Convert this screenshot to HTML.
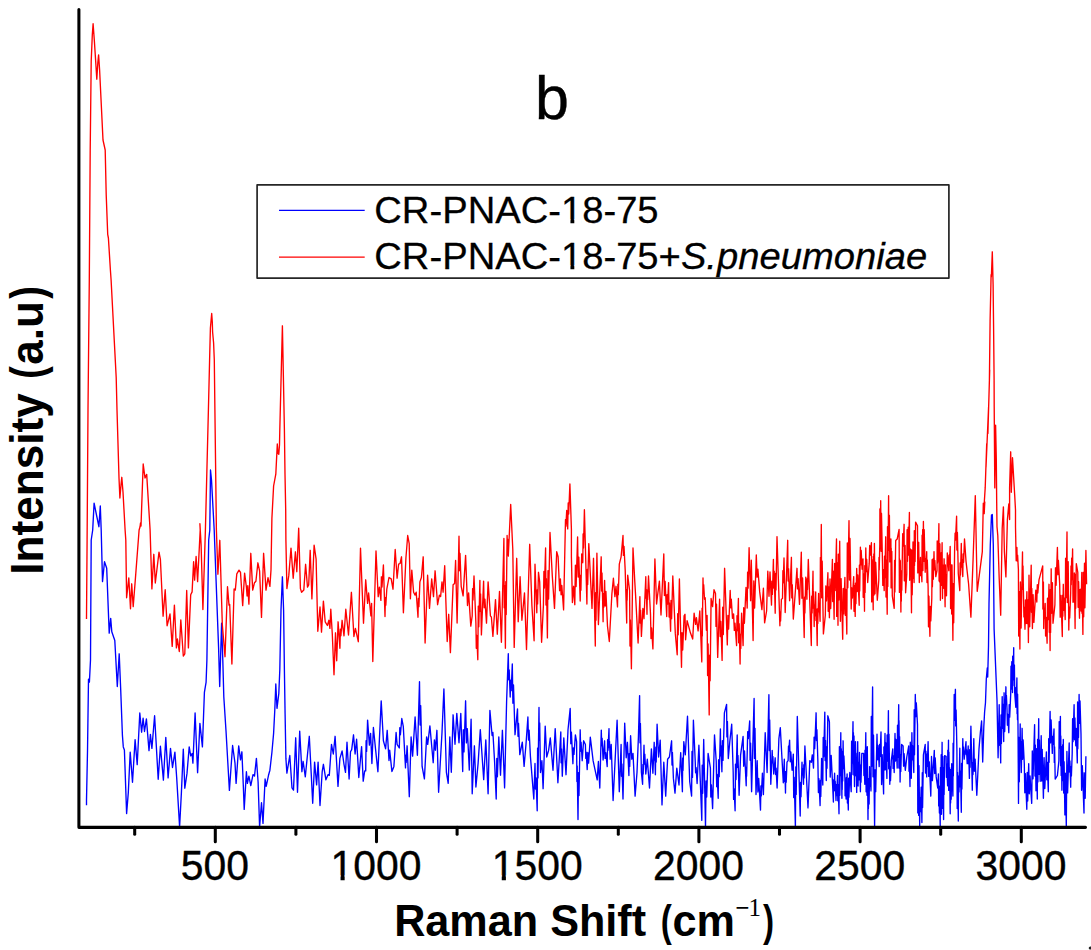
<!DOCTYPE html>
<html><head><meta charset="utf-8"><title>Raman spectra</title>
<style>
html,body{margin:0;padding:0;background:#fff;}
svg{display:block;font-family:"Liberation Sans",sans-serif;}
.tl{font-size:41.4px;text-anchor:middle;fill:#000;stroke:#000;stroke-width:0.35px;}
.ax line,.ax path{stroke:#000;stroke-width:3.05;stroke-linecap:round;stroke-linejoin:round;fill:none;}
.ttl{font-size:43.2px;font-weight:bold;fill:#000;}
.lg{font-size:35.5px;fill:#000;stroke:#000;stroke-width:0.25px;}
</style></head><body>
<svg width="1091" height="950" viewBox="0 0 1091 950">
<rect width="1091" height="950" fill="#fff"/>
<path d="M86.5,805.2 L86.5,800.0 L87.5,751.3 L88.5,679.1 L89.4,682.1 L90.5,660.0 L91.2,540.0 L92.7,530.0 L94.1,503.1 L96.5,515.0 L98.9,526.7 L100.3,506.0 L101.2,530.0 L102.5,581.6 L104.5,561.7 L106.7,568.3 L109.2,633.1 L110.7,618.4 L111.8,631.7 L114.8,640.5 L117.3,686.5 L119.2,653.8 L120.7,689.5 L121.8,718.9 L122.4,735.1 L123.3,746.9 L124.4,749.9 L126.6,813.6 L128.3,792.6 L130.2,752.1 L132.5,782.3 L135.1,739.6 L137.2,764.6 L139.8,713.0 L141.6,732.2 L143.1,718.2 L144.5,731.5 L146.4,718.9 L149.0,750.6 L150.4,734.4 L151.9,748.4 L154.6,715.7 L158.2,779.3 L160.4,746.2 L163.4,780.1 L165.8,737.4 L168.1,777.9 L170.5,748.4 L172.5,767.5 L174.9,752.1 L176.7,777.9 L179.6,826.8 L181.4,792.6 L183.3,749.1 L184.8,788.2 L187.0,773.4 L189.2,746.9 L190.7,755.8 L192.1,753.5 L192.9,763.1 L195.1,713.0 L197.6,772.7 L199.9,723.4 L202.4,746.9 L204.4,692.4 L206.1,682.1 L206.9,660.0 L208.7,540.0 L209.8,530.0 L210.5,470.0 L211.5,480.0 L214.2,530.0 L218.6,647.9 L219.7,686.5 L221.6,623.2 L222.8,660.0 L223.8,696.8 L226.0,730.7 L229.4,790.4 L232.6,745.5 L235.0,763.1 L236.1,783.4 L238.7,745.9 L240.5,759.9 L241.9,751.8 L243.4,787.9 L244.2,809.4 L246.4,771.7 L247.4,783.4 L248.9,776.1 L250.8,785.6 L253.0,774.6 L254.5,776.1 L256.4,758.4 L258.1,782.0 L259.6,827.0 L261.5,802.7 L263.0,823.4 L265.1,779.0 L266.2,786.4 L268.5,775.3 L269.9,770.2 L271.9,752.5 L273.6,733.4 L274.8,709.8 L275.8,684.0 L277.0,708.3 L278.8,693.6 L279.8,670.0 L281.0,610.0 L282.4,576.8 L283.6,610.0 L284.4,670.0 L285.1,714.2 L285.9,758.4 L286.9,773.1 L289.8,755.5 L292.0,787.9 L293.5,790.1 L295.7,737.8 L297.5,792.3 L299.7,731.1 L301.9,771.7 L303.1,761.3 L305.3,776.8 L309.3,736.3 L311.2,773.1 L312.7,803.3 L314.6,762.1 L316.6,784.9 L318.1,762.1 L320.0,805.5 L322.2,771.7 L323.4,764.3 L325.9,779.8 L328.1,774.6 L329.3,775.3 L331.5,744.4 L333.3,754.0 L335.1,736.3 L338.0,786.4 L339.9,758.4 L342.1,751.0 L344.0,764.3 L345.5,772.4 L347.0,742.2 L349.1,779.0 L350.5,751.8 L351.7,749.6 L353.5,734.8 L355.1,754.0 L356.6,739.2 L358.8,777.5 L361.6,746.6 L363.2,781.2 L364.7,770.9 L365.7,770.9 L366.1,740.7 L366.6,751.4 L367.6,720.1 L369.4,745.1 L370.6,733.4 L371.9,763.5 L373.4,727.5 L375.6,749.6 L377.9,771.7 L381.2,700.9 L383.4,740.7 L385.0,746.6 L385.6,748.7 L387.2,730.3 L389.0,760.5 L389.7,750.2 L391.9,771.5 L393.9,766.4 L396.1,732.5 L397.1,744.3 L399.3,748.0 L399.8,727.7 L400.4,734.8 L401.8,718.5 L403.3,726.6 L405.5,767.9 L405.8,755.3 L406.2,762.4 L407.1,745.8 L409.3,796.7 L411.1,736.9 L412.6,756.1 L415.1,717.0 L417.4,755.3 L419.5,681.7 L420.1,725.1 L420.7,705.6 L422.1,766.4 L424.4,778.9 L426.6,736.9 L427.7,744.3 L429.9,725.9 L433.2,762.7 L434.4,739.9 L435.4,750.2 L436.9,730.3 L438.6,792.3 L442.0,732.5 L443.9,689.0 L446.4,772.3 L448.2,783.3 L449.8,736.9 L451.3,772.3 L453.1,714.8 L455.0,744.3 L456.8,713.4 L459.0,742.8 L460.8,713.4 L462.7,771.5 L463.3,729.7 L464.0,751.9 L465.6,700.8 L466.4,742.9 L467.3,728.6 L469.3,770.1 L471.1,719.2 L472.2,793.8 L474.4,745.8 L475.9,787.0 L478.1,763.4 L480.3,729.6 L483.7,779.6 L485.8,739.9 L488.1,793.8 L489.9,710.4 L492.1,735.5 L492.9,732.5 L494.6,762.0 L496.2,799.0 L496.8,758.4 L497.4,776.8 L498.8,736.9 L500.5,775.2 L502.4,730.3 L504.6,787.9 L506.6,701.6 L508.3,653.7 L508.7,679.8 L509.2,670.0 L510.2,697.1 L510.7,680.1 L511.2,690.6 L512.3,664.0 L512.9,703.2 L513.5,684.9 L515.0,734.7 L517.5,708.9 L518.0,736.3 L518.5,723.4 L519.8,754.6 L522.3,742.1 L524.1,766.4 L526.0,744.3 L527.9,717.0 L528.5,740.1 L529.1,730.2 L530.4,756.1 L533.8,799.0 L535.0,763.4 L535.5,789.0 L536.0,777.8 L537.2,810.8 L537.6,748.1 L538.0,777.9 L539.0,707.4 L539.3,740.0 L539.7,722.9 L540.5,772.5 L541.9,760.7 L543.1,788.7 L545.2,726.1 L546.7,757.0 L548.6,750.4 L550.3,737.9 L553.0,770.3 L555.2,728.6 L557.9,782.8 L560.8,732.0 L561.1,762.8 L561.5,748.8 L562.3,776.2 L563.8,737.9 L566.0,774.7 L568.0,729.8 L570.2,708.4 L570.8,743.7 L571.4,732.2 L572.9,763.7 L573.4,748.0 L574.0,754.4 L575.4,734.9 L576.6,741.6 L576.9,781.5 L577.2,765.9 L578.0,819.6 L578.5,772.7 L579.0,795.6 L580.2,729.8 L580.7,751.2 L581.1,742.2 L582.2,760.7 L583.6,740.8 L585.4,744.5 L585.8,758.4 L586.2,752.1 L587.2,769.6 L587.8,752.5 L588.6,763.1 L590.3,737.1 L593.1,760.7 L597.2,779.9 L598.4,761.5 L599.8,788.0 L601.3,730.1 L601.7,745.7 L602.1,738.2 L603.1,760.0 L604.6,740.8 L605.1,758.4 L605.8,752.6 L607.2,766.6 L607.6,739.7 L608.0,750.3 L609.0,728.6 L609.2,747.6 L609.5,741.3 L610.2,759.2 L611.2,744.5 L613.1,800.5 L617.1,720.2 L619.3,791.7 L621.1,744.5 L621.5,776.2 L621.9,763.9 L623.0,799.0 L624.7,723.1 L626.2,757.8 L627.4,742.3 L628.9,775.5 L629.2,753.6 L629.7,766.4 L630.6,735.7 L631.8,759.2 L633.0,753.4 L635.1,796.1 L637.0,772.5 L638.4,737.1 L639.6,695.6 L640.0,742.8 L640.4,723.3 L641.4,772.5 L642.6,784.3 L642.9,764.5 L643.2,774.0 L644.0,745.2 L644.4,764.0 L644.8,754.1 L645.8,774.0 L647.3,759.2 L649.5,788.0 L651.4,748.9 L652.9,773.2 L654.2,742.3 L654.5,760.1 L654.7,752.5 L655.4,774.7 L655.8,747.2 L656.2,762.0 L657.1,724.2 L658.6,757.0 L660.2,740.1 L662.0,804.9 L663.8,762.2 L665.7,796.1 L667.6,759.2 L669.4,757.0 L671.6,740.8 L672.0,765.1 L672.4,752.4 L673.4,778.4 L675.0,793.1 L676.8,768.1 L679.0,785.0 L680.7,752.6 L682.4,791.7 L682.7,757.9 L683.0,770.4 L683.8,741.6 L685.3,754.8 L687.5,716.2 L689.7,781.3 L691.6,796.1 L692.0,751.4 L692.5,777.4 L693.4,720.2 L695.2,760.7 L695.6,772.8 L696.1,767.7 L697.1,783.5 L698.9,745.2 L701.8,820.4 L702.2,765.1 L702.7,793.3 L703.7,739.4 L705.5,826.3 L706.1,781.0 L706.7,797.0 L708.1,753.4 L710.4,768.1 L710.8,797.0 L711.4,784.9 L712.6,808.6 L714.5,734.9 L716.2,760.7 L716.7,786.7 L717.1,774.5 L718.2,798.3 L718.6,759.8 L719.2,776.7 L720.4,729.0 L720.7,755.9 L721.0,745.7 L721.9,771.8 L722.4,740.6 L723.0,760.4 L724.4,712.8 L726.6,704.4 L726.9,736.9 L727.4,721.4 L728.3,758.5 L729.8,741.6 L731.7,724.2 L733.2,772.5 L733.6,799.4 L734.1,788.8 L735.1,810.8 L735.5,764.1 L736.0,779.5 L737.2,734.9 L737.6,767.6 L738.0,755.5 L739.1,795.3 L740.6,754.8 L743.1,736.4 L743.7,766.2 L744.5,751.0 L746.2,785.8 L746.4,767.2 L746.6,776.2 L747.2,753.4 L747.7,731.6 L748.3,738.6 L749.7,720.9 L750.1,760.2 L750.6,743.1 L751.6,791.7 L754.1,698.5 L754.5,758.4 L755.0,728.3 L756.0,794.6 L757.2,760.7 L757.9,792.0 L758.7,778.4 L760.5,810.1 L760.9,786.0 L761.3,795.9 L762.4,773.2 L762.6,786.2 L762.8,778.9 L763.4,794.6 L765.2,732.7 L767.1,772.5 L768.9,694.7 L769.3,750.5 L769.7,719.9 L770.8,784.3 L772.2,750.4 L772.6,762.8 L772.9,756.5 L773.7,774.0 L775.2,757.8 L775.6,774.5 L776.1,768.1 L777.1,788.0 L778.9,738.6 L780.3,727.6 L783.3,782.8 L784.3,759.2 L784.6,781.5 L784.9,771.4 L785.5,793.1 L785.8,771.7 L786.2,782.3 L787.0,762.2 L788.1,760.7 L788.5,746.1 L788.8,751.4 L789.6,740.1 L790.2,761.8 L790.8,752.0 L792.1,770.3 L793.3,754.1 L793.7,797.5 L794.2,777.3 L795.4,827.0 L795.8,767.0 L796.2,794.4 L797.3,716.5 L800.2,816.0 L800.6,782.5 L801.0,796.8 L802.0,762.2 L802.3,774.9 L802.7,768.4 L803.5,784.3 L803.8,764.6 L804.1,777.9 L804.9,746.0 L808.0,807.9 L809.8,760.7 L811.3,762.2 L812.3,754.8 L813.5,768.1 L814.1,737.2 L814.7,748.6 L816.1,712.8 L816.5,740.5 L816.9,729.6 L817.9,762.2 L818.4,792.6 L818.9,778.6 L820.1,805.6 L820.4,780.5 L820.8,796.5 L821.6,758.5 L821.8,775.9 L822.1,770.2 L822.8,785.0 L823.2,737.5 L823.7,756.8 L824.8,712.1 L825.1,760.5 L825.5,740.3 L826.3,780.6 L826.6,747.0 L827.0,768.3 L827.8,715.8 L829.4,721.7 L830.2,777.1 L831.2,755.5 L833.4,802.0 L833.6,780.0 L833.9,790.5 L834.6,773.2 L834.9,790.7 L835.2,781.2 L836.0,800.5 L836.4,784.6 L836.7,795.7 L837.5,775.5 L837.8,800.8 L838.2,784.4 L839.0,813.8 L839.4,746.7 L839.8,795.3 L840.8,732.7 L841.0,775.6 L841.3,748.7 L841.9,798.3 L842.1,759.5 L842.2,789.4 L842.6,751.2 L842.7,781.1 L843.1,740.8 L843.5,768.7 L843.9,755.9 L844.9,778.4 L845.1,795.8 L845.4,783.9 L846.1,799.0 L846.3,777.7 L846.5,792.6 L847.1,774.0 L847.4,803.1 L847.6,789.0 L848.3,810.1 L848.6,778.1 L848.9,797.3 L849.8,772.5 L851.2,791.7 L851.6,741.2 L852.0,774.6 L853.0,721.7 L853.2,763.1 L853.4,732.6 L853.8,775.0 L854.0,735.9 L854.5,786.5 L854.6,758.4 L854.7,769.6 L855.0,747.8 L855.1,771.6 L855.5,741.6 L855.8,775.8 L856.0,753.2 L856.7,792.4 L856.9,759.5 L857.1,778.6 L857.7,741.6 L858.1,786.1 L858.4,762.2 L859.1,779.8 L859.5,752.4 L860.4,791.7 L860.7,765.1 L861.0,782.2 L861.8,753.4 L863.6,753.4 L863.9,775.5 L864.1,762.0 L864.8,784.3 L865.0,750.2 L865.2,769.5 L865.8,732.7 L866.1,791.8 L866.4,747.9 L867.0,795.3 L867.3,746.7 L868.0,819.6 L868.2,783.0 L868.4,808.4 L868.9,778.5 L869.1,804.1 L869.6,766.6 L869.9,786.0 L870.2,775.0 L871.0,790.9 L871.3,716.5 L871.7,766.2 L872.6,687.0 L873.0,776.8 L873.5,735.2 L874.6,826.3 L875.2,769.8 L875.7,791.7 L877.0,734.2 L877.5,759.7 L878.0,745.5 L879.2,766.6 L879.6,744.4 L880.0,756.5 L881.0,732.0 L881.6,784.6 L882.2,754.7 L883.6,793.9 L883.9,747.0 L884.2,770.2 L885.0,733.5 L885.4,769.8 L885.8,743.0 L886.9,778.4 L887.1,735.0 L887.3,761.6 L887.7,735.6 L887.9,752.9 L888.4,710.6 L888.7,768.7 L889.0,734.1 L889.8,784.3 L890.1,766.7 L890.5,780.7 L891.3,760.7 L892.8,748.9 L893.1,768.4 L893.4,755.7 L894.2,772.5 L895.0,733.5 L895.5,761.1 L896.0,739.3 L897.2,768.1 L897.5,725.3 L897.9,757.3 L898.7,704.7 L898.9,768.1 L899.0,720.6 L899.5,768.3 L899.6,736.7 L900.1,782.1 L900.5,755.2 L900.8,771.6 L901.6,744.5 L903.1,746.0 L903.6,766.2 L904.1,753.7 L905.3,770.3 L906.8,757.0 L908.7,746.0 L909.0,771.2 L909.3,753.7 L910.0,786.5 L910.3,742.2 L910.5,774.0 L911.0,745.1 L911.3,778.3 L911.9,732.7 L912.3,759.8 L912.8,745.9 L913.8,772.5 L914.2,709.8 L914.5,754.7 L915.3,694.4 L915.8,716.7 L916.3,702.8 L917.5,724.6 L917.8,812.9 L918.1,745.3 L918.7,815.4 L919.0,765.6 L919.7,826.3 L920.0,797.5 L920.4,811.8 L921.2,787.2 L921.9,822.6 L922.3,772.8 L922.6,807.5 L923.4,754.8 L925.2,744.5 L925.5,773.1 L925.9,751.2 L926.7,776.9 L927.0,754.2 L927.3,766.6 L928.1,741.6 L928.7,776.4 L929.3,761.8 L930.8,796.1 L931.5,756.5 L932.4,780.6 L934.3,750.4 L934.7,773.5 L935.2,757.9 L936.2,776.9 L937.7,788.0 L938.4,774.0 L938.7,805.9 L938.9,789.0 L939.4,813.0 L939.6,786.3 L940.2,827.0 L940.5,767.4 L940.7,807.1 L941.2,754.8 L941.5,814.3 L942.1,742.3 L942.4,808.2 L942.8,756.4 L943.6,819.6 L943.8,767.5 L944.1,794.4 L944.6,755.6 L946.1,756.3 L946.4,777.3 L946.8,763.8 L947.6,785.8 L947.8,750.3 L948.0,774.5 L948.5,740.1 L948.7,790.4 L948.9,752.1 L949.4,786.5 L949.6,767.7 L950.2,813.8 L950.4,769.6 L950.6,802.9 L951.0,779.7 L951.2,799.3 L951.7,763.7 L952.0,786.7 L952.2,776.9 L952.9,796.1 L953.1,743.3 L953.3,776.0 L953.9,733.5 L954.2,694.5 L954.6,720.3 L955.4,689.3 L955.7,725.9 L956.1,710.0 L956.9,748.9 L957.2,808.5 L957.5,772.3 L958.3,821.1 L958.6,776.3 L959.0,791.9 L959.8,748.2 L960.1,786.9 L960.5,770.8 L961.3,812.3 L961.6,763.5 L961.9,789.0 L962.8,738.6 L963.1,751.9 L963.4,746.9 L964.2,759.2 L966.0,741.6 L966.2,754.5 L966.5,749.6 L967.2,763.7 L968.2,746.0 L968.5,763.7 L968.7,752.8 L969.4,778.4 L969.7,749.7 L970.1,767.3 L970.9,726.1 L972.3,790.2 L972.6,762.8 L973.0,774.6 L973.8,738.6 L974.4,771.2 L975.1,759.1 L976.8,795.3 L979.0,748.9 L980.4,732.0 L981.6,721.0 L982.7,762.0 L983.8,727.0 L984.6,712.0 L985.5,702.5 L986.3,679.0 L987.3,667.9 L987.7,677.0 L988.5,646.5 L989.0,604.0 L990.3,545.0 L991.5,515.0 L992.3,514.5 L993.3,545.0 L994.1,629.0 L995.6,666.0 L997.0,700.0 L998.1,757.8 L999.2,704.7 L999.6,745.2 L999.9,727.0 L1000.7,762.9 L1001.0,714.9 L1001.4,743.6 L1002.2,696.6 L1002.5,728.2 L1002.9,704.1 L1003.7,741.6 L1004.1,692.8 L1004.7,731.5 L1005.9,686.8 L1006.1,704.4 L1006.4,695.3 L1007.0,709.1 L1007.4,725.2 L1007.9,714.3 L1008.8,732.7 L1009.2,704.6 L1009.7,717.1 L1010.7,694.4 L1011.0,666.2 L1011.2,689.3 L1011.8,661.7 L1012.5,692.6 L1012.7,656.1 L1012.8,675.0 L1013.1,659.3 L1013.3,678.7 L1013.7,647.7 L1013.8,679.9 L1013.9,665.6 L1014.2,685.8 L1014.4,664.8 L1014.7,692.6 L1015.8,707.3 L1016.0,687.5 L1016.3,702.0 L1016.9,677.9 L1017.1,713.8 L1017.2,693.7 L1017.5,719.8 L1017.6,694.2 L1018.0,725.4 L1018.5,803.4 L1018.9,737.5 L1019.3,781.7 L1020.2,723.9 L1020.4,753.6 L1020.7,741.4 L1021.3,772.5 L1022.1,728.3 L1022.6,759.3 L1023.1,739.8 L1024.3,763.7 L1024.8,792.8 L1025.4,773.6 L1026.8,809.3 L1027.2,772.4 L1027.7,801.1 L1028.7,763.7 L1029.3,793.8 L1030.0,775.9 L1031.7,803.4 L1032.3,750.9 L1033.0,778.8 L1034.6,724.6 L1035.0,776.0 L1035.3,745.0 L1036.0,790.7 L1036.4,748.7 L1037.3,799.0 L1037.6,739.4 L1037.9,781.9 L1038.7,718.7 L1039.0,774.3 L1039.4,740.0 L1040.2,781.3 L1040.4,753.6 L1040.7,768.3 L1041.2,735.7 L1041.7,781.1 L1042.2,749.4 L1043.4,798.3 L1044.1,757.6 L1044.8,788.5 L1046.4,751.9 L1046.8,779.8 L1047.3,762.4 L1048.3,791.7 L1048.7,738.7 L1049.1,762.3 L1050.1,711.4 L1050.5,742.9 L1051.1,720.0 L1052.3,753.4 L1052.7,736.5 L1053.1,744.3 L1054.0,729.0 L1054.3,762.4 L1054.6,746.8 L1055.2,779.1 L1057.4,775.5 L1058.9,760.7 L1059.2,721.6 L1059.6,748.2 L1060.4,716.5 L1060.6,765.7 L1060.8,735.9 L1061.2,775.4 L1061.4,746.4 L1061.9,790.2 L1062.1,753.7 L1062.2,779.6 L1062.7,744.8 L1062.8,780.6 L1063.3,739.4 L1063.7,793.1 L1064.1,761.6 L1064.9,814.9 L1065.3,773.1 L1066.3,826.3 L1066.9,751.4 L1067.6,792.9 L1069.2,743.0 L1069.5,772.0 L1069.9,760.8 L1070.7,787.2 L1071.0,766.6 L1071.4,776.1 L1072.2,753.4 L1072.6,718.7 L1073.0,741.7 L1074.1,704.7 L1074.5,739.7 L1074.9,717.9 L1075.8,745.8 L1076.2,728.5 L1077.3,762.9 L1077.6,702.0 L1077.8,748.8 L1078.3,714.5 L1078.5,737.5 L1079.1,694.4 L1079.5,723.4 L1080.0,700.9 L1081.0,734.2 L1081.6,790.3 L1082.3,765.6 L1084.0,813.0 L1084.2,772.8 L1084.5,790.8 L1085.0,778.5 L1085.2,798.2 L1085.9,756.3" fill="none" stroke="#0000ff" stroke-width="1.35" stroke-linejoin="round"/>
<path d="M86.5,619.0 L87.1,540.0 L88.0,410.0 L89.3,280.0 L90.2,150.0 L91.2,61.5 L92.3,35.0 L93.1,23.7 L94.3,40.0 L95.6,60.0 L96.8,79.2 L97.8,63.0 L98.6,54.9 L99.6,70.0 L103.0,140.0 L105.2,150.0 L106.2,194.5 L107.7,234.3 L108.4,238.0 L110.4,270.0 L111.1,280.0 L116.2,377.5 L117.0,410.0 L119.0,478.0 L119.9,498.0 L121.0,485.0 L121.8,477.3 L123.0,492.0 L125.1,530.0 L125.8,540.0 L126.6,597.8 L128.8,577.9 L130.5,608.8 L131.7,583.8 L133.2,606.6 L135.4,578.6 L139.1,530.0 L140.0,527.0 L140.5,523.0 L141.0,526.0 L143.2,464.0 L145.0,478.0 L146.7,474.4 L150.1,530.0 L151.9,588.9 L153.8,554.3 L155.3,583.0 L159.0,552.1 L160.4,559.5 L163.1,616.2 L165.2,589.7 L167.1,625.8 L170.0,614.0 L172.2,646.4 L174.4,605.1 L176.4,647.9 L177.4,639.0 L179.3,651.5 L180.8,619.9 L183.3,656.0 L184.8,653.8 L186.7,590.4 L188.4,647.9 L190.7,594.8 L192.1,591.9 L193.6,561.7 L194.6,580.1 L196.1,556.5 L197.6,581.6 L200.2,530.0 L199.9,523.7 L201.1,544.7 L202.9,609.6 L205.4,530.0 L208.4,410.0 L209.6,360.0 L210.4,328.0 L211.7,313.5 L212.3,322.0 L212.6,332.0 L213.6,343.0 L214.3,360.0 L214.9,410.0 L216.4,530.0 L217.9,574.2 L219.8,540.3 L222.3,624.3 L225.0,656.7 L227.5,586.7 L229.0,605.1 L229.7,604.4 L231.9,664.1 L234.1,588.9 L235.3,590.1 L236.8,573.9 L239.0,570.2 L240.5,572.4 L242.7,605.6 L244.6,573.1 L246.4,587.1 L247.1,596.0 L247.8,585.7 L248.9,604.1 L250.8,553.3 L252.7,590.1 L254.5,582.7 L255.9,581.2 L257.9,562.8 L259.6,570.9 L261.5,617.4 L263.6,553.3 L266.0,590.1 L268.0,577.6 L269.9,586.4 L271.0,569.9 L271.9,518.4 L273.6,486.0 L275.8,474.2 L277.3,444.0 L278.0,453.6 L278.8,454.3 L279.5,444.7 L279.8,430.0 L282.4,325.8 L284.4,430.0 L285.0,474.2 L285.7,509.6 L285.9,540.0 L286.9,588.6 L288.8,575.4 L291.0,548.1 L293.2,578.3 L295.4,551.8 L296.8,571.7 L298.7,528.2 L300.4,588.6 L301.6,592.3 L303.8,590.1 L305.6,564.3 L307.5,587.1 L308.7,584.9 L310.2,550.3 L311.9,598.9 L314.1,545.2 L316.1,559.1 L317.8,631.3 L320.0,607.0 L321.5,632.1 L323.4,601.1 L325.2,621.8 L327.4,625.5 L328.9,620.3 L329.9,628.4 L330.8,609.2 L332.3,634.3 L334.0,674.8 L335.5,632.8 L336.7,660.8 L338.1,621.8 L339.9,648.3 L340.4,629.1 L340.9,635.8 L342.1,620.3 L344.0,635.8 L345.8,609.2 L348.5,635.0 L351.4,592.3 L353.9,636.5 L355.4,628.4 L358.3,641.7 L360.5,548.1 L363.5,623.2 L365.7,579.8 L367.6,603.4 L368.6,593.0 L370.9,615.9 L371.6,603.4 L372.8,661.5 L376.0,551.0 L378.2,596.7 L379.4,587.1 L380.9,600.4 L381.4,576.8 L382.0,587.0 L383.4,565.0 L385.0,616.6 L385.4,597.7 L385.8,605.1 L386.8,589.2 L389.0,577.5 L391.2,578.9 L393.0,589.2 L395.2,549.5 L397.1,578.2 L398.6,564.2 L400.1,563.5 L401.5,556.8 L403.4,612.8 L405.9,558.3 L407.7,535.5 L409.2,543.6 L410.4,598.8 L411.8,570.1 L413.6,592.2 L415.1,595.1 L416.2,592.2 L418.0,617.2 L418.4,598.5 L418.9,606.7 L419.9,581.9 L421.4,577.5 L423.2,556.8 L425.1,643.0 L427.6,575.2 L429.5,608.4 L431.7,578.9 L433.5,596.6 L435.1,570.8 L437.6,604.7 L439.4,595.1 L440.6,596.6 L442.0,581.9 L443.1,592.2 L444.7,565.7 L447.2,641.5 L448.7,614.3 L450.4,652.6 L453.1,584.8 L454.6,583.4 L455.6,560.5 L457.1,623.1 L459.0,536.2 L459.5,570.7 L460.0,553.5 L461.2,586.3 L463.1,595.9 L465.6,555.4 L467.5,605.5 L468.6,592.9 L470.8,626.1 L472.2,615.8 L472.6,588.6 L473.0,600.0 L474.0,576.0 L475.9,623.1 L476.3,648.3 L476.8,635.5 L477.8,659.7 L478.3,606.1 L478.8,626.8 L479.9,580.4 L480.2,611.2 L480.6,594.0 L481.4,634.9 L483.6,581.1 L484.2,607.8 L484.9,599.1 L486.5,623.1 L488.1,581.9 L490.4,615.8 L491.4,617.2 L492.9,636.4 L495.5,599.6 L497.3,634.2 L499.5,591.5 L501.4,642.3 L503.9,538.4 L504.2,607.8 L504.6,585.3 L505.4,648.2 L505.8,581.7 L506.2,614.6 L507.1,535.5 L507.4,546.0 L507.7,539.2 L508.3,556.1 L510.7,504.5 L512.8,549.5 L514.2,647.4 L516.7,558.3 L518.2,621.7 L520.1,576.7 L521.9,620.2 L524.5,592.9 L526.5,649.6 L529.7,544.3 L531.9,605.5 L534.1,640.8 L535.0,564.2 L536.8,612.8 L537.2,589.9 L537.6,603.9 L538.5,572.3 L539.7,581.9 L541.6,642.3 L543.4,605.5 L543.9,571.5 L544.4,588.0 L545.6,548.0 L546.0,605.1 L546.4,578.6 L547.4,637.9 L548.0,570.7 L548.6,599.1 L550.0,532.5 L552.3,576.0 L554.5,608.4 L556.7,551.7 L558.1,556.8 L559.6,590.7 L560.4,578.9 L561.1,594.8 L561.8,585.5 L563.6,609.9 L565.2,533.3 L565.2,533.4 L565.5,519.6 L565.9,526.2 L566.7,510.5 L567.7,528.9 L568.2,502.9 L568.7,514.0 L569.9,484.0 L571.4,528.9 L571.4,556.8 L572.4,602.5 L573.6,586.3 L574.8,604.7 L575.4,565.2 L576.1,586.6 L577.6,536.9 L578.2,577.0 L578.8,557.1 L580.2,601.0 L580.6,575.2 L580.9,590.3 L581.7,553.9 L582.8,562.7 L583.1,534.0 L583.5,548.1 L584.4,509.7 L586.9,604.0 L587.3,569.5 L587.7,584.6 L588.8,543.6 L592.0,608.4 L593.5,558.3 L595.3,646.0 L595.6,592.7 L596.0,620.3 L596.9,553.1 L598.4,624.6 L601.2,556.8 L601.6,591.0 L602.0,572.9 L603.1,621.7 L603.4,593.7 L603.8,607.2 L604.6,580.4 L605.2,606.0 L605.9,591.4 L607.5,626.1 L609.3,641.5 L611.9,593.7 L613.4,578.2 L614.9,596.6 L616.0,586.3 L617.5,606.9 L617.9,584.3 L618.3,594.8 L619.3,564.2 L621.1,556.8 L623.0,535.5 L623.4,555.4 L624.0,546.3 L625.2,570.1 L626.7,623.1 L626.9,589.5 L627.1,600.2 L627.7,575.2 L629.6,590.7 L630.0,646.0 L630.4,620.0 L631.4,668.8 L633.0,548.0 L634.8,581.9 L635.5,593.7 L638.1,643.0 L639.9,596.6 L640.2,623.0 L640.6,610.1 L641.4,636.4 L642.9,608.4 L644.0,618.7 L645.8,576.7 L646.1,598.3 L646.3,589.5 L647.0,614.3 L647.3,590.2 L647.7,599.5 L648.5,576.0 L650.5,614.3 L651.0,638.5 L651.6,628.0 L652.9,648.9 L654.9,559.0 L656.6,604.0 L657.6,595.1 L659.4,581.1 L661.0,615.0 L663.8,553.9 L664.4,595.5 L665.1,581.3 L666.7,616.5 L667.1,594.6 L667.6,604.1 L668.6,582.6 L669.1,617.0 L669.5,602.8 L670.6,631.2 L671.0,600.5 L671.6,618.7 L672.8,576.0 L675.3,633.4 L677.2,654.8 L677.7,613.6 L678.2,634.8 L679.4,578.9 L681.5,667.3 L682.0,632.6 L682.7,650.0 L684.1,615.8 L685.0,614.3 L685.6,639.8 L687.1,620.6 L690.5,633.1 L692.7,639.0 L694.1,613.2 L695.6,624.3 L696.4,617.7 L698.1,630.9 L699.8,611.0 L701.8,661.9 L702.1,608.3 L702.3,635.9 L703.0,577.9 L703.3,589.8 L703.7,584.7 L704.5,599.2 L705.2,597.8 L706.4,630.2 L707.1,615.5 L707.6,675.5 L708.1,644.0 L709.2,714.9 L709.6,655.3 L710.1,680.8 L711.1,598.5 L712.6,606.6 L714.0,589.7 L715.5,593.4 L716.0,626.4 L716.5,604.2 L717.7,657.4 L719.6,599.2 L720.2,636.6 L720.8,621.4 L722.1,660.4 L722.7,607.2 L723.3,634.6 L724.6,568.3 L727.3,644.9 L727.9,615.4 L728.6,629.0 L730.2,590.4 L730.7,607.8 L731.3,599.2 L732.5,618.4 L733.6,614.0 L734.3,630.4 L735.0,623.2 L736.6,645.6 L737.0,615.8 L737.4,630.8 L738.4,598.5 L738.7,642.8 L739.2,623.6 L740.1,664.1 L740.4,634.5 L740.8,648.4 L741.6,613.2 L743.1,645.6 L743.7,607.7 L744.4,623.3 L746.0,587.5 L746.3,600.2 L746.5,593.9 L747.2,608.1 L747.6,572.2 L748.1,588.2 L749.1,547.7 L750.6,600.7 L751.3,560.2 L753.1,640.5 L753.8,580.9 L754.6,608.1 L756.3,555.0 L757.1,577.2 L757.9,569.2 L759.7,591.9 L761.9,609.6 L763.4,588.2 L764.6,622.8 L766.6,611.0 L767.8,571.2 L769.0,596.3 L770.0,572.0 L771.5,605.1 L771.9,581.3 L772.4,594.4 L773.4,559.5 L773.8,588.1 L774.2,571.1 L775.2,613.2 L775.6,573.4 L776.0,589.9 L777.0,536.6 L779.9,625.8 L780.2,612.4 L780.6,621.0 L781.4,599.2 L782.5,598.5 L782.9,570.7 L783.2,582.9 L784.0,558.0 L785.2,612.5 L787.7,540.3 L788.1,581.1 L788.6,568.7 L789.6,600.7 L791.4,557.3 L791.8,597.9 L792.3,584.6 L793.3,619.1 L795.1,594.8 L797.0,568.3 L797.5,588.9 L798.1,578.7 L799.5,604.4 L801.3,552.1 L801.9,598.2 L802.6,577.9 L804.2,637.5 L804.6,597.3 L804.9,613.0 L805.8,577.1 L806.0,590.1 L806.3,584.5 L806.9,599.2 L807.2,578.6 L807.5,589.6 L808.3,559.5 L811.3,645.6 L811.7,596.2 L812.1,612.9 L813.0,571.2 L813.3,608.1 L813.6,591.4 L814.2,626.5 L814.5,605.5 L814.9,615.8 L815.7,591.9 L816.0,620.5 L816.4,609.0 L817.2,645.6 L817.5,609.0 L817.8,623.5 L818.6,593.4 L819.0,611.8 L819.3,605.4 L820.1,621.3 L820.4,557.4 L820.7,591.5 L821.3,524.4 L821.7,597.7 L822.2,561.2 L823.4,633.9 L825.3,615.5 L825.8,586.0 L826.5,600.9 L827.9,572.7 L828.2,611.2 L828.6,586.6 L829.4,617.7 L830.0,578.9 L830.7,608.6 L832.4,559.5 L832.7,601.6 L833.2,571.1 L834.1,618.4 L834.1,619.3 L834.6,563.4 L835.2,590.5 L836.5,539.0 L836.7,616.4 L836.9,563.1 L837.3,606.2 L837.5,562.9 L838.0,625.2 L838.3,554.1 L838.8,600.0 L839.7,541.2 L840.4,621.2 L841.1,578.6 L842.7,639.2 L843.2,588.5 L843.7,613.9 L844.9,577.4 L845.3,615.3 L845.8,589.5 L846.8,634.1 L847.3,543.0 L847.8,587.7 L849.0,520.6 L849.5,580.1 L850.0,538.4 L851.2,609.0 L851.8,587.8 L852.4,598.0 L853.7,576.6 L854.0,611.2 L854.4,585.3 L855.2,616.4 L855.5,583.2 L855.9,603.7 L856.7,568.5 L857.2,591.6 L857.8,575.0 L859.2,605.3 L859.4,565.3 L859.7,591.0 L860.4,547.1 L860.7,564.9 L861.2,550.5 L862.1,569.2 L863.0,558.9 L863.2,597.2 L863.4,573.6 L863.8,593.6 L864.0,575.0 L864.5,611.2 L864.8,565.8 L865.1,592.4 L865.8,547.9 L866.2,571.5 L866.7,559.3 L867.7,582.5 L869.2,563.4 L869.7,545.5 L870.2,555.2 L871.4,542.7 L871.7,601.9 L871.9,559.6 L872.4,598.5 L872.6,566.5 L873.2,609.8 L873.3,556.5 L873.5,588.1 L873.8,553.9 L874.0,595.1 L874.4,543.5 L875.0,593.8 L875.7,562.3 L877.3,600.2 L878.8,580.3 L879.0,557.4 L879.2,570.1 L879.8,544.2 L879.9,508.8 L880.0,529.7 L880.3,510.7 L880.4,535.5 L880.7,500.7 L881.1,551.3 L881.5,513.5 L882.5,564.8 L882.8,585.4 L883.3,569.6 L884.2,590.6 L884.5,556.1 L884.9,577.7 L885.7,536.8 L886.0,597.1 L886.4,560.0 L887.2,614.2 L887.5,526.8 L887.8,586.4 L888.6,495.7 L888.8,536.8 L889.0,518.4 L889.3,550.4 L889.4,515.4 L889.8,561.9 L890.0,545.7 L890.3,556.8 L890.9,539.0 L891.1,587.9 L891.2,548.2 L891.7,581.7 L891.8,551.3 L892.3,595.8 L894.2,608.3 L894.6,560.4 L894.9,592.0 L895.7,540.5 L897.2,539.0 L899.1,529.5 L899.4,592.4 L899.6,559.0 L900.1,587.7 L900.3,560.7 L900.9,612.0 L901.1,570.8 L901.3,601.3 L901.7,573.7 L901.8,590.2 L902.4,551.6 L902.7,533.7 L903.2,546.1 L904.1,524.3 L904.3,580.7 L904.5,549.7 L904.9,580.8 L905.1,545.5 L905.6,592.8 L906.8,573.7 L907.1,529.7 L907.5,561.3 L908.2,527.3 L908.5,555.1 L909.4,512.5 L909.7,580.2 L910.0,548.7 L910.5,573.5 L910.8,549.3 L911.5,612.7 L911.8,550.1 L912.2,594.8 L913.0,542.0 L913.1,573.4 L913.3,555.0 L913.6,578.2 L913.7,555.6 L914.1,582.5 L914.3,530.7 L914.5,565.5 L914.9,535.4 L915.1,561.6 L915.6,522.1 L917.5,525.8 L917.8,572.9 L918.0,544.4 L918.5,568.2 L918.7,542.3 L919.3,582.5 L919.5,566.0 L919.8,575.2 L920.5,557.5 L920.8,575.7 L921.1,565.3 L921.9,581.8 L922.1,535.3 L922.3,557.1 L922.7,529.4 L922.9,570.5 L923.4,521.4 L923.8,561.4 L924.2,529.7 L925.2,572.2 L925.5,558.4 L925.9,568.7 L926.7,551.6 L927.0,582.6 L927.3,560.0 L928.1,586.9 L928.5,626.8 L928.9,596.1 L929.9,636.3 L930.3,606.4 L930.8,620.9 L931.8,598.0 L932.1,559.8 L932.4,586.7 L933.0,558.9 L933.3,579.3 L934.0,551.6 L934.4,569.9 L934.8,560.4 L935.8,576.6 L937.0,570.7 L937.2,540.9 L937.5,563.1 L938.0,541.3 L938.2,561.1 L938.9,523.6 L939.1,581.0 L939.3,549.5 L939.7,581.9 L939.9,543.8 L940.4,600.2 L940.6,560.5 L940.8,584.4 L941.3,552.7 L941.5,585.3 L942.1,542.7 L942.5,598.5 L942.9,564.8 L943.7,588.2 L944.1,558.8 L945.1,606.8 L945.4,564.9 L945.6,595.5 L946.3,574.5 L946.5,595.7 L947.3,553.0 L948.8,570.7 L949.1,555.1 L949.4,564.1 L950.2,546.4 L950.6,608.6 L950.9,564.8 L951.7,614.1 L952.0,564.8 L952.9,640.3 L953.3,583.6 L953.7,622.8 L954.6,550.8 L955.1,533.1 L955.5,540.1 L956.6,516.2 L956.9,550.1 L957.4,532.5 L958.3,573.7 L959.8,590.6 L960.1,562.9 L960.5,575.1 L961.3,543.5 L961.6,567.1 L961.9,559.4 L962.8,576.6 L963.1,553.9 L963.6,562.3 L964.5,539.0 L966.0,561.1 L968.6,584.0 L970.9,617.1 L973.1,558.9 L975.3,495.6 L977.2,591.3 L982.3,551.9 L983.3,503.3 L984.2,513.6 L984.8,501.8 L983.8,510.0 L985.2,487.9 L986.7,443.7 L986.0,467.2 L988.6,406.8 L987.9,433.4 L989.7,370.0 L989.4,380.0 L990.1,321.0 L990.9,284.2 L991.1,274.6 L991.4,276.8 L992.3,251.8 L993.1,284.2 L993.6,328.4 L994.1,380.0 L994.2,406.8 L994.8,487.9 L995.6,425.2 L996.3,458.4 L996.7,502.6 L997.0,526.8 L997.8,535.7 L999.2,578.4 L1000.7,615.2 L1002.2,528.3 L1003.4,506.9 L1004.4,551.9 L1005.9,576.9 L1007.4,519.5 L1008.8,504.0 L1009.6,519.5 L1009.6,487.9 L1010.7,451.8 L1011.3,492.3 L1012.5,457.7 L1014.7,495.2 L1015.5,510.0 L1015.5,526.8 L1016.2,560.7 L1016.9,547.5 L1017.2,561.1 L1017.6,555.1 L1018.4,569.6 L1018.7,636.1 L1019.1,591.5 L1019.9,649.1 L1020.4,582.0 L1021.1,628.0 L1022.5,551.9 L1022.7,589.2 L1023.0,566.0 L1023.5,596.1 L1023.9,616.9 L1024.2,607.2 L1025.0,629.2 L1025.4,600.0 L1025.9,623.6 L1026.9,591.7 L1027.1,623.5 L1027.3,601.6 L1027.7,622.7 L1027.9,600.0 L1028.4,642.5 L1029.0,575.2 L1029.7,626.7 L1031.2,565.1 L1031.5,612.2 L1031.8,588.4 L1032.4,628.5 L1033.1,594.7 L1033.9,622.4 L1035.8,590.2 L1036.8,602.0 L1037.3,584.7 L1037.8,593.0 L1039.0,579.9 L1042.7,565.9 L1042.9,609.0 L1043.0,589.6 L1043.3,605.6 L1043.4,581.9 L1043.7,628.5 L1044.1,608.3 L1044.4,618.5 L1045.2,603.4 L1045.6,636.1 L1046.1,617.3 L1047.1,643.2 L1047.5,598.1 L1048.0,619.7 L1049.0,584.3 L1049.3,632.3 L1049.5,598.3 L1050.1,650.6 L1050.3,589.7 L1050.6,632.4 L1051.2,568.8 L1051.5,613.3 L1051.7,585.9 L1052.2,613.1 L1052.4,582.7 L1053.0,623.3 L1054.9,604.9 L1055.5,567.8 L1056.1,585.3 L1057.4,547.5 L1057.9,574.7 L1058.4,560.5 L1059.7,584.3 L1060.2,617.2 L1060.9,595.5 L1062.3,636.6 L1062.5,595.1 L1062.8,616.3 L1063.3,584.3 L1063.7,610.3 L1064.2,598.2 L1065.2,619.6 L1065.6,558.3 L1066.1,597.7 L1067.0,532.0 L1067.3,602.5 L1067.5,572.0 L1068.0,593.9 L1068.2,561.7 L1068.8,630.0 L1069.2,607.0 L1069.7,618.0 L1070.7,593.1 L1071.0,566.0 L1071.2,584.7 L1071.7,558.1 L1072.0,579.5 L1072.6,548.9 L1073.0,602.2 L1073.3,581.6 L1074.0,601.9 L1074.3,572.9 L1075.1,628.5 L1075.4,574.4 L1075.7,608.2 L1076.3,563.7 L1077.8,572.5 L1078.1,607.2 L1078.6,581.7 L1079.5,618.2 L1079.8,589.7 L1080.1,601.1 L1080.7,589.2 L1081.0,611.0 L1081.8,572.5 L1082.0,613.3 L1082.3,596.7 L1082.9,634.4 L1083.3,572.3 L1083.7,616.7 L1084.5,563.1 L1084.9,607.8 L1085.9,550.4 L1086.6,584.3" fill="none" stroke="#ff0000" stroke-width="1.35" stroke-linejoin="round"/>
<g class="ax">
<path d="M78.9,9.5 L78.9,827.35 L1085.5,827.35"/>
<line x1="215.3" y1="827.3" x2="215.3" y2="841.8" />
<text class="tl" transform="translate(214.9,880.4) scale(0.988,1.04)">500</text>
<line x1="376.5" y1="827.3" x2="376.5" y2="841.8" />
<text class="tl" transform="translate(376.1,880.4) scale(0.988,1.04)">1000</text>
<line x1="537.7" y1="827.3" x2="537.7" y2="841.8" />
<text class="tl" transform="translate(537.3,880.4) scale(0.988,1.04)">1500</text>
<line x1="698.9" y1="827.3" x2="698.9" y2="841.8" />
<text class="tl" transform="translate(698.5,880.4) scale(0.988,1.04)">2000</text>
<line x1="860.1" y1="827.3" x2="860.1" y2="841.8" />
<text class="tl" transform="translate(859.7,880.4) scale(0.988,1.04)">2500</text>
<line x1="1021.3" y1="827.3" x2="1021.3" y2="841.8" />
<text class="tl" transform="translate(1020.9,880.4) scale(0.988,1.04)">3000</text>
<line x1="134.7" y1="827.3" x2="134.7" y2="834.3" />
<line x1="295.9" y1="827.3" x2="295.9" y2="834.3" />
<line x1="457.1" y1="827.3" x2="457.1" y2="834.3" />
<line x1="618.3" y1="827.3" x2="618.3" y2="834.3" />
<line x1="779.5" y1="827.3" x2="779.5" y2="834.3" />
<line x1="940.7" y1="827.3" x2="940.7" y2="834.3" />
</g>
<text class="ttl" transform="translate(394.15,936.2) scale(1,1.035)">Raman Shift</text>
<text class="ttl" transform="translate(660.67,936.2) scale(0.77,1.035)">(</text>
<text class="ttl" transform="translate(672.6,936.2) scale(1,1.035)">cm</text>
<text x="735.3" y="916" font-family="Liberation Serif" font-weight="bold" font-size="25px">−</text>
<text x="748.4" y="916" font-family="Liberation Serif" font-size="25px">1</text>
<text class="ttl" transform="translate(763.07,936.2) scale(0.77,1.035)">)</text>
<text class="ttl" style="font-size:44.15px" transform="translate(43.2,574.7) rotate(-90) scale(1,1.035)">Intensity</text>
<text class="ttl" style="font-size:44.15px" transform="translate(43.2,378.74) rotate(-90) scale(0.85,1.035)">(</text>
<text class="ttl" style="font-size:44.15px" transform="translate(43.2,364.7) rotate(-90) scale(1,1.035)">a.u</text>
<text class="ttl" style="font-size:44.15px" transform="translate(43.2,298.84) rotate(-90) scale(0.86,1.035)">)</text>
<text x="535" y="119.3" font-size="61px" stroke="#000" stroke-width="0.4">b</text>
<rect x="257.1" y="184.9" width="691.8" height="93.2" fill="#fff" stroke="#262626" stroke-width="1.7" stroke-linejoin="round"/>
<line x1="279" y1="210.3" x2="364.7" y2="210.3" stroke="#0000ff" stroke-width="1.35"/>
<line x1="279" y1="257.1" x2="364.7" y2="257.1" stroke="#ff0000" stroke-width="1.35"/>
<text class="lg" transform="translate(374.3,222.8) scale(1.076,1.04)">CR-PNAC-18-75</text>
<text class="lg" transform="translate(374.3,269.4) scale(1.076,1.04)">CR-PNAC-18-75+<tspan font-style="italic">S.pneumoniae</tspan></text>
<g fill="#fff">
<rect x="331.5" y="875.3" width="9.05" height="6.3"/><rect x="344.65" y="875.3" width="8.85" height="6.3"/>
<rect x="493.3" y="875.3" width="8.45" height="6.3"/><rect x="505.9" y="875.3" width="7.9" height="6.3"/>
<rect x="562.5" y="219.4" width="7.95" height="4.6"/><rect x="574.3" y="219.4" width="7.2" height="4.6"/>
<rect x="562.5" y="265.4" width="7.95" height="4.6"/><rect x="574.3" y="265.4" width="7.2" height="4.6"/>
</g>
<circle cx="1090.3" cy="948" r="1.6" fill="#222"/>
</svg>
</body></html>
